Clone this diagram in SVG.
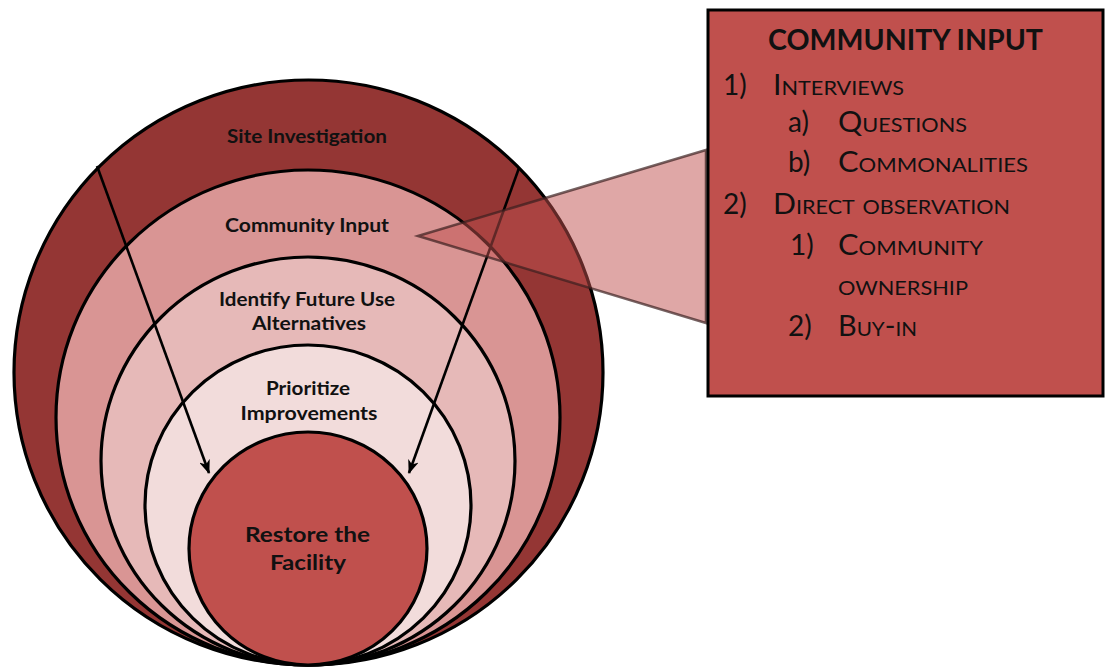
<svg xmlns="http://www.w3.org/2000/svg" width="1106" height="668" viewBox="0 0 1106 668">
<style>
.ring{stroke:#000;stroke-width:3.2}
.lbl{font-family:Lato,"Liberation Sans",sans-serif;font-weight:bold;font-size:18px;fill:#111;text-anchor:middle}
.big{font-size:21px}
.bx{font-family:Lato,"Liberation Sans",sans-serif;font-size:28px;fill:#111}
.sc{font-variant:small-caps}
.arr{stroke:#000;stroke-width:2.6;fill:none;marker-end:url(#ah)}
</style>
<defs>
<marker id="ah" viewBox="0 0 14 11" refX="13" refY="5.5" markerWidth="14" markerHeight="11" markerUnits="userSpaceOnUse" orient="auto">
<path d="M0,0 L14,5.5 L0,11 L4,5.5 z" fill="#000"/>
</marker>
</defs>
<rect width="1106" height="668" fill="#fff"/>
<g id="site-investigation">
<ellipse class="ring" cx="308.5" cy="372.5" rx="294.5" ry="292.5" fill="#943634"/>
</g>
<g id="community-input">
<ellipse class="ring" cx="308" cy="417.5" rx="252" ry="247.5" fill="#D99594"/>
</g>
<g id="future-use">
<ellipse class="ring" cx="308" cy="461" rx="207" ry="204" fill="#E6B9B8"/>
</g>
<g id="prioritize">
<ellipse class="ring" cx="308" cy="505" rx="163" ry="160" fill="#F2DCDB"/>
</g>
<g id="restore">
<ellipse class="ring" cx="308" cy="548.5" rx="119" ry="116.5" fill="#C0504D"/>
</g>
<g id="connectors">
<line class="arr" x1="97" y1="166" x2="209" y2="473"/>
<line class="arr" x1="519" y1="168" x2="409" y2="473"/>
</g>
<g id="labels">
<text class="lbl" x="307" y="143" textLength="160" lengthAdjust="spacingAndGlyphs">Site Investigation</text>
<text class="lbl" x="307" y="232" textLength="164" lengthAdjust="spacingAndGlyphs">Community Input</text>
<text class="lbl" x="307" y="306" textLength="176" lengthAdjust="spacingAndGlyphs">Identify Future Use</text>
<text class="lbl" x="309" y="330" textLength="114" lengthAdjust="spacingAndGlyphs">Alternatives</text>
<text class="lbl" x="308" y="395" textLength="84" lengthAdjust="spacingAndGlyphs">Prioritize</text>
<text class="lbl" x="309" y="420" textLength="137" lengthAdjust="spacingAndGlyphs">Improvements</text>
<text class="lbl big" x="307.5" y="542" textLength="125" lengthAdjust="spacingAndGlyphs">Restore the</text>
<text class="lbl big" x="308" y="570" textLength="76" lengthAdjust="spacingAndGlyphs">Facility</text>
</g>
<g id="callout">
<polygon points="418,236 706,150 706,323" fill="#C0504D" fill-opacity="0.5" stroke="#3a2020" stroke-opacity="0.7" stroke-width="2.5" stroke-linejoin="miter"/>
</g>
<g id="community-input-box">
<rect x="708" y="10" width="395" height="386" fill="#C0504D" stroke="#000" stroke-width="3"/>
<text class="bx" x="768" y="50" font-weight="bold" textLength="275" lengthAdjust="spacingAndGlyphs">COMMUNITY INPUT</text>
<text class="bx" x="723" y="95">1)</text>
<text class="bx sc" x="773" y="95" textLength="131" lengthAdjust="spacingAndGlyphs">Interviews</text>
<text class="bx" x="788" y="132">a)</text>
<text class="bx sc" x="838" y="132" textLength="129" lengthAdjust="spacingAndGlyphs">Questions</text>
<text class="bx" x="788" y="172">b)</text>
<text class="bx sc" x="838" y="172" textLength="190" lengthAdjust="spacingAndGlyphs">Commonalities</text>
<text class="bx" x="723" y="214">2)</text>
<text class="bx sc" x="773" y="214" textLength="237" lengthAdjust="spacingAndGlyphs">Direct observation</text>
<text class="bx" x="790" y="255">1)</text>
<text class="bx sc" x="838" y="255" textLength="145" lengthAdjust="spacingAndGlyphs">Community</text>
<text class="bx sc" x="838" y="295" textLength="130" lengthAdjust="spacingAndGlyphs">ownership</text>
<text class="bx" x="788" y="336">2)</text>
<text class="bx sc" x="838" y="336" textLength="79" lengthAdjust="spacingAndGlyphs">Buy-in</text>
</g>
</svg>
